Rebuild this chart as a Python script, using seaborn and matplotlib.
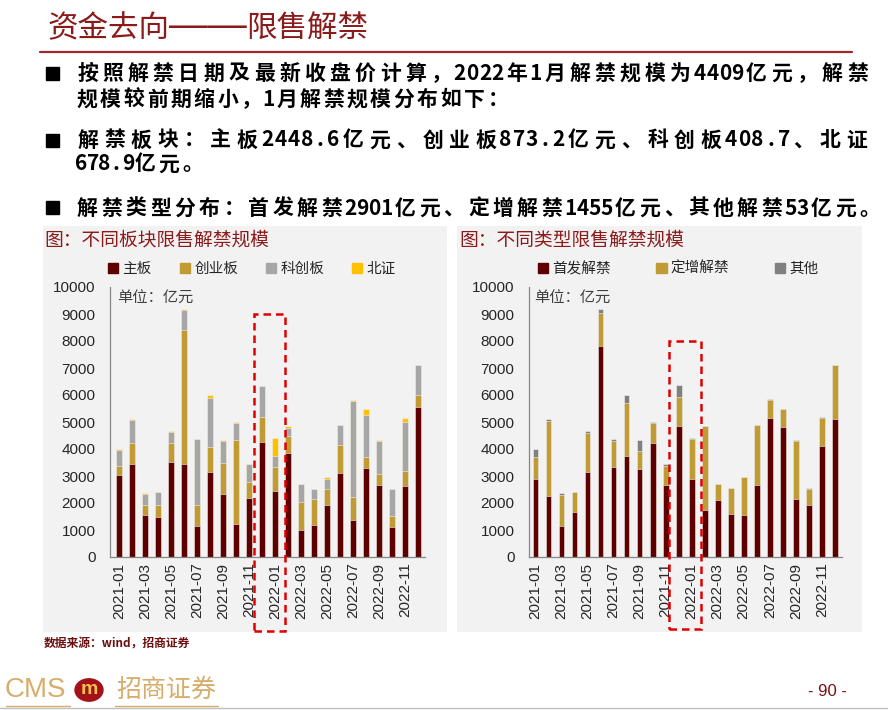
import matplotlib
matplotlib.use('Agg')
import matplotlib.pyplot as plt
import seaborn as sns
from matplotlib.patches import Patch, Rectangle, Circle
from matplotlib.lines import Line2D

# 月份
months = [f"{y}-{m:02d}" for y in (2021, 2022) for m in range(1, 13)]

# 不同板块限售解禁规模（亿元）
main_board = [3040, 3450, 1565, 1500, 3520, 3450, 1160, 3130, 2340, 1230, 2170, 4275,
              2448.6, 3865, 985, 1195, 1910, 3115, 1355, 3310, 2660, 1095, 2635, 5565]
chinext = [335, 790, 370, 435, 690, 4950, 775, 960, 1130, 3105, 610, 895,
           873.2, 630, 1070, 950, 615, 1035, 850, 410, 430, 430, 565, 435]
star = [590, 835, 405, 455, 430, 760, 2425, 1810, 840, 640, 655, 1160,
        408.7, 270, 645, 380, 370, 725, 3585, 1540, 1210, 985, 1810, 1105]
bse = [30, 30, 25, 25, 30, 10, 20, 90, 20, 15, 15, 20,
       678.9, 85, 10, 10, 50, 30, 35, 210, 15, 20, 150, 0]

# 不同类型限售解禁规模（亿元）
ipo = [2880, 2265, 1160, 1650, 3130, 7810, 3325, 3755, 3265, 4225, 2650, 4865,
       2901, 1750, 2095, 1600, 1565, 2670, 5160, 4830, 2155, 1935, 4125, 5125]
placement = [840, 2770, 1120, 740, 1450, 1230, 960, 1960, 650, 750, 735, 1070,
             1455, 3100, 605, 950, 1390, 2220, 665, 640, 2155, 600, 1035, 1980]
other = [270, 75, 85, 35, 100, 135, 100, 285, 420, 25, 65, 420,
         53, 10, 10, 10, 10, 10, 20, 10, 10, 10, 10, 10]

left_names = ['主板', '创业板', '科创板', '北证']
left_colors = ['#5E0000', '#C09A32', '#A6A6A6', '#FFC000']
right_names = ['首发解禁', '定增解禁', '其他']
right_colors = ['#5E0000', '#C09A32', '#808080']

DARK_RED = '#8B1A1A'
CJK = ['Noto Sans CJK SC', 'DejaVu Sans']
LAT = ['Liberation Sans', 'DejaVu Sans']

sns.set_style('white')
plt.rcParams['font.family'] = CJK

W, H = 888, 710
fig = plt.figure(figsize=(W / 100, H / 100), dpi=100)


def fx(px):
    return px / W


def fy(py):
    return 1 - py / H


def spaced_text(txt, x0, y, x1=None, unit=23.5, **kw):
    # 逐字排版：全角字占一格，半角字占半格；给出 x1 时两端对齐
    weights = [0.5 if ord(ch) < 128 else 1.0 for ch in txt]
    if x1 is not None:
        unit = (x1 - x0) / sum(weights)
    x = x0
    for ch, w in zip(txt, weights):
        fig.text(fx(x + w * unit / 2), fy(y), ch, ha='center', va='center', **kw)
        x += w * unit


# 标题
title_kw = dict(color=DARK_RED, fontsize=22, va='baseline')
fig.text(fx(47), fy(37), '资金去向', ha='left', **title_kw)
fig.text(fx(208), fy(37), '——', ha='center', color=DARK_RED, fontsize=28,
         va='baseline', family=LAT)
fig.text(fx(246), fy(37), '限售解禁', ha='left', **title_kw)
fig.add_artist(Line2D([fx(40), fx(852)], [fy(52), fy(52)], color='#A3282B', lw=1.6))

bullets = [
    (73, '按照解禁日期及最新收盘价计算，2022年1月解禁规模为4409亿元，解禁', 870, True),
    (99, '规模较前期缩小，1月解禁规模分布如下：', None, False),
    (140, '解禁板块：主板2448.6亿元、创业板873.2亿元、科创板408.7、北证', 870, True),
    (164, '678.9亿元。', None, False),
    (208, '解禁类型分布：首发解禁2901亿元、定增解禁1455亿元、其他解禁53亿元。', 882, True),
]
for y, txt, x_end, mark in bullets:
    if mark:
        fig.add_artist(Rectangle((fx(46), fy(y + 6.5)), 13 / W, 13 / H, color='black',
                                 transform=fig.transFigure))
    spaced_text(txt, 75, y, x_end, fontsize=15, fontweight='bold', color='black')

# 图表底色
for x0, x1 in [(43, 447), (457, 862)]:
    fig.add_artist(Rectangle((fx(x0), fy(632)), (x1 - x0) / W, (632 - 226) / H,
                             facecolor='#F2F2F2', edgecolor='none',
                             transform=fig.transFigure, zorder=0))


def stacked(ax, layers, colors):
    tops = []
    run = [0] * len(months)
    for vals in layers:
        run = [a + b for a, b in zip(run, vals)]
        tops.append(list(run))
    for top, c in reversed(list(zip(tops, colors))):
        sns.barplot(x=months, y=top, color=c, saturation=1, width=0.44,
                    edgecolor='#F2F2F2', linewidth=0.4, ax=ax, order=months)


def style_axis(ax, xlim):
    ax.set_facecolor('none')
    ax.set_ylim(0, 10000)
    ax.set_xlim(*xlim)
    ax.set_yticks(range(0, 10001, 1000))
    ax.set_yticklabels([str(v) for v in range(0, 10001, 1000)], family=LAT, fontsize=11)
    ax.set_xticks(range(0, 24, 2))
    ax.set_xticklabels(months[::2], rotation=90, family=LAT, fontsize=11)
    ax.set_xticks([i - 0.5 for i in range(25)], minor=True)
    ax.tick_params(axis='x', which='major', length=0, pad=4)
    ax.tick_params(axis='x', which='minor', length=4, color='#868686', direction='out')
    ax.tick_params(axis='y', length=3.5, color='#868686', direction='out', pad=7)
    for s in ['top', 'right']:
        ax.spines[s].set_visible(False)
    for s in ['left', 'bottom']:
        ax.spines[s].set_color('#868686')
        ax.spines[s].set_linewidth(0.9)
    ax.set_xlabel('')
    ax.set_ylabel('')


bottom = fy(557)
height = 270 / H

ax1 = fig.add_axes([fx(110), bottom, 315 / W, height])
stacked(ax1, [main_board, chinext, star, bse], left_colors)
style_axis(ax1, (-0.72, 23.55))
ax1.text(0.022, 0.96, '单位：亿元', transform=ax1.transAxes, fontsize=11,
         color='#404040', va='center')
ax1.add_patch(Rectangle((10.34, -2740), 2.45, 9000 + 2740, fill=False,
                        edgecolor='#E00000', linestyle=(0, (3, 2)), lw=1.8,
                        clip_on=False, zorder=5))

ax2 = fig.add_axes([fx(529), bottom, 313 / W, height])
stacked(ax2, [ipo, placement, other], right_colors)
style_axis(ax2, (-0.5, 23.55))
ax2.text(0.016, 0.96, '单位：亿元', transform=ax2.transAxes, fontsize=11,
         color='#404040', va='center')
ax2.add_patch(Rectangle((10.27, -2667), 2.46, 8000 + 2667, fill=False,
                        edgecolor='#E00000', linestyle=(0, (3, 2)), lw=1.8,
                        clip_on=False, zorder=5))

# 图标题与图例
fig.text(fx(44), fy(240), '图：不同板块限售解禁规模', color=DARK_RED, fontsize=13.5,
         va='center')
fig.text(fx(459), fy(240), '图：不同类型限售解禁规模', color=DARK_RED, fontsize=13.5,
         va='center')

fig.legend(handles=[Patch(color=c, label=n) for n, c in zip(left_names, left_colors)],
           loc='center left', bbox_to_anchor=(fx(108), fy(269)), ncol=4, frameon=False,
           fontsize=10.5, handlelength=0.7, handleheight=0.7, handletextpad=0.3,
           columnspacing=1.9, borderaxespad=0, borderpad=0)
fig.legend(handles=[Patch(color=c, label=n) for n, c in zip(right_names, right_colors)],
           loc='center left', bbox_to_anchor=(fx(538), fy(269)), ncol=3, frameon=False,
           fontsize=10.5, handlelength=0.7, handleheight=0.7, handletextpad=0.3,
           columnspacing=3.1, borderaxespad=0, borderpad=0)

# 页脚
fig.text(fx(44), fy(644), '数据来源：wind，招商证券', color='#6B0F0F', fontsize=8.5,
         fontweight='bold', va='center')
GOLD = '#D6AD6B'
fig.text(fx(5), fy(690), 'CMS', color=GOLD, fontsize=20, family=LAT, va='center')
fig.add_artist(Circle((fx(89), fy(690)), 14 / W, color='#A3121A',
                      transform=fig.transFigure))
fig.text(fx(89), fy(690), 'm', color='#F2C14E', fontsize=14, fontweight='bold',
         family=LAT, ha='center', va='center')
fig.text(fx(116), fy(690), '招商证券', color=GOLD, fontsize=18, va='center')
fig.add_artist(Line2D([fx(6), fx(70)], [fy(706), fy(706)], color=GOLD, lw=1))
fig.add_artist(Line2D([fx(115), fx(218)], [fy(706), fy(706)], color=GOLD, lw=1))
fig.add_artist(Line2D([0, 1], [fy(708), fy(708)], color='#BFBFBF', lw=1))
fig.text(fx(827), fy(691), '- 90 -', color='#7A0F0F', fontsize=12, family=LAT,
         ha='center', va='center')

fig.savefig('out.png', dpi=100, facecolor='white')
